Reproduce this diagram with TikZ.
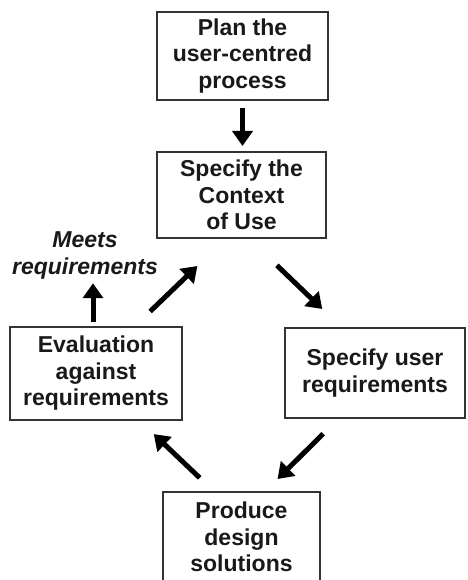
\documentclass[tikz,border=0pt]{standalone}
\usepackage{fontspec}
\setmainfont{Liberation Sans}
\usetikzlibrary{arrows.meta}

\begin{document}
\begin{tikzpicture}[x=1pt, y=1pt,
    stagebox/.style={rectangle, draw=black!80, line width=2pt, fill=white, align=center, font=\fontsize{23}{26.5}\selectfont\bfseries, text=black!90, inner sep=0pt},
    flow/.style={line width=5pt, -{Triangle[length=15pt,width=20pt]}},
    outcome/.style={align=center, font=\fontsize{23}{26.5}\selectfont\bfseries\itshape, text=black!90, inner sep=0pt}]

    \useasboundingbox (0,0) rectangle (467,580);

    % Stages of the cycle
    \node[stagebox, minimum width=171pt, minimum height=88pt] (plan) at (242.5,524) {Plan the\\user-centred\\process};
    \node[stagebox, minimum width=169pt, minimum height=86pt] (ctx) at (241.5,385) {Specify the\\Context\\of Use};
    \node[stagebox, minimum width=180pt, minimum height=90pt] (req) at (375,207) {Specify user\\requirements};
    \node[stagebox, minimum width=157pt, minimum height=90pt] (prod) at (241.5,43) {Produce\\design\\solutions};
    \node[stagebox, minimum width=172pt, minimum height=93pt] (eval) at (96,206.5) {Evaluation\\against\\requirements};

    % Exit of the loop
    \node[outcome] (meets) at (85,324.5) {Meets\\requirements};

    % Arrows round the cycle
    \draw[flow, shorten <=7pt, shorten >=5pt] (plan.south) -- (plan.south |- ctx.north);
    \draw[flow, shorten <=38pt, shorten >=26pt] ([xshift=8pt]ctx.south) -- ([xshift=-34pt]req.north);
    \draw[flow, shorten <=21pt, shorten >=17pt] ([xshift=-37pt]req.south) -- ([xshift=24pt]prod.north);
    \draw[flow, shorten <=19pt, shorten >=19pt] ([xshift=-28pt]prod.north) -- ([xshift=44pt]eval.south);
    \draw[flow, shorten <=21pt, shorten >=39pt] ([xshift=39pt]eval.north) -- ([xshift=-16pt]ctx.south);
    \draw[flow, shorten <=4pt, shorten >=4pt] ([xshift=-3pt]eval.north) -- ([xshift=-3pt]eval.north |- meets.south);

\end{tikzpicture}
\end{document}
